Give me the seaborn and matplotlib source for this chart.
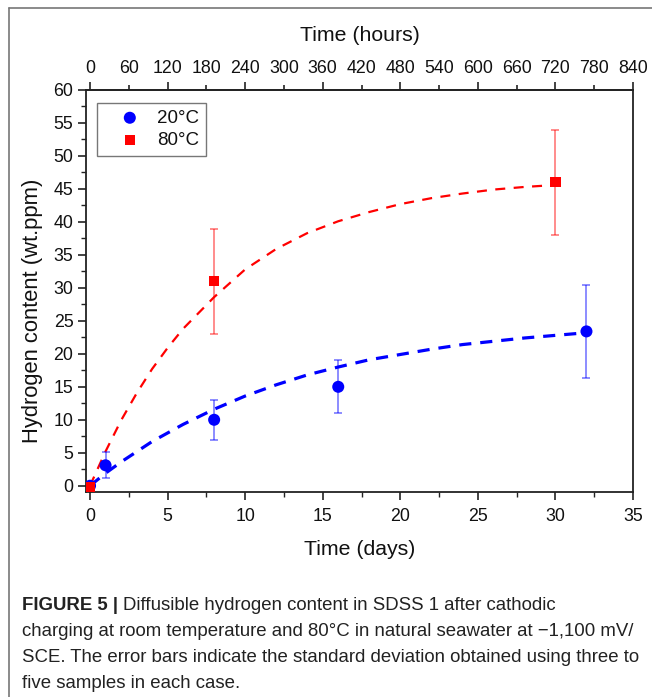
import numpy as np
import pandas as pd
import matplotlib
matplotlib.use("Agg")
import matplotlib.pyplot as plt
from matplotlib.lines import Line2D
from matplotlib.ticker import MultipleLocator
import seaborn as sns

# ---- data ----
days_20 = [0, 1, 8, 16, 32]
h_20 = [0.0, 3.1, 10.0, 15.0, 23.4]
err_20 = [0.0, 2.0, 3.0, 4.0, 7.0]

days_80 = [0, 8, 30]
h_80 = [-0.2, 31.0, 46.0]
err_80 = [0.0, 8.0, 8.0]

fit_days_20 = [0, 1, 2, 4, 6, 8, 10, 12, 14, 16, 18, 20, 22, 24, 26, 28, 30, 32]
fit_h_20 = [0.0, 1.9, 3.6, 6.7, 9.3, 11.6, 13.6, 15.3, 16.8, 18.0, 19.1, 19.9,
            20.7, 21.4, 21.9, 22.4, 22.8, 23.2]
fit_days_80 = [0, 1, 2, 3, 4, 5, 6, 8, 10, 12, 14, 16, 18, 20, 22, 24, 26, 28, 30]
fit_h_80 = [0.0, 5.2, 9.9, 14.0, 17.7, 20.9, 23.8, 28.6, 32.8, 35.9, 38.3, 40.1,
            41.5, 42.7, 43.6, 44.3, 44.9, 45.3, 45.6]

x_ticks = [0, 5, 10, 15, 20, 25, 30, 35]
y_ticks = [0, 5, 10, 15, 20, 25, 30, 35, 40, 45, 50, 55, 60]
hour_ticks = list(range(0, 841, 60))

labels = ["20°C", "80°C"]
caption_bold = "FIGURE 5 | "
caption_lines = [
    "Diffusible hydrogen content in SDSS 1 after cathodic",
    "charging at room temperature and 80°C in natural seawater at \u22121,100 mV/",
    "SCE. The error bars indicate the standard deviation obtained using three to",
    "five samples in each case.",
]

# ---- style ----
sns.set_style("white")
plt.rcParams["font.family"] = ["Liberation Sans", "DejaVu Sans"]

W, H = 652, 697
fig = plt.figure(figsize=(W / 100, H / 100), dpi=100)
ax = fig.add_axes([86 / W, 1 - 492 / H, (633 - 86) / W, (492 - 90) / H])

BLUE = "#0000ff"
RED = "#ff0000"
TXT = "#111111"

fit20 = pd.DataFrame({"t": fit_days_20, "h": fit_h_20})
fit80 = pd.DataFrame({"t": fit_days_80, "h": fit_h_80})
sns.lineplot(data=fit80, x="t", y="h", ax=ax, color=RED, lw=1.6,
             linestyle=(0, (4.5, 3.8)), legend=False)
sns.lineplot(data=fit20, x="t", y="h", ax=ax, color=BLUE, lw=2.3,
             linestyle=(0, (3.8, 2.8)), legend=False)

ax.errorbar(days_80, h_80, yerr=err_80, fmt="none", ecolor=RED, alpha=0.45,
            elinewidth=1.4, capsize=3.2, capthick=1.4)
ax.errorbar(days_20, h_20, yerr=err_20, fmt="none", ecolor=BLUE, alpha=0.45,
            elinewidth=1.4, capsize=3.2, capthick=1.4)

d20 = pd.DataFrame({"t": days_20, "h": h_20})
d80 = pd.DataFrame({"t": days_80, "h": h_80})
sns.scatterplot(data=d20, x="t", y="h", ax=ax, color=BLUE, marker="o", s=75,
                edgecolor="none", label=labels[0], zorder=5)
sns.scatterplot(data=d80, x="t", y="h", ax=ax, color=RED, marker="s", s=55,
                edgecolor="none", label=labels[1], zorder=5)

ax.set_xlim(-0.26, 35)
ax.set_ylim(-0.95, 60)
ax.set_xticks(x_ticks)
ax.set_yticks(y_ticks)
ax.xaxis.set_minor_locator(MultipleLocator(2.5))
ax.yaxis.set_minor_locator(MultipleLocator(2.5))
ax.tick_params(axis="both", which="major", direction="out", length=6, width=1.2,
               labelsize=12.8, color="#222222", labelcolor=TXT, pad=3)
ax.tick_params(axis="x", which="major", pad=5.5)
ax.tick_params(axis="both", which="minor", direction="out", length=3.5, width=1.0,
               color="#222222")
ax.tick_params(bottom=True, left=True, which="both")
for s in ax.spines.values():
    s.set_linewidth(1.3)
    s.set_color("#222222")

ax.set_xlabel("Time (days)", fontsize=15.3, labelpad=11, color=TXT)
ax.set_ylabel("Hydrogen content (wt.ppm)", fontsize=15.8, color=TXT)
ax.yaxis.label.set_va("center")
ax.yaxis.set_label_coords((33 - 86) / 547, 1 - (311 - 90) / 402)

# top axis in hours
top = ax.secondary_xaxis("top", functions=(lambda d: d * 24, lambda h: h / 24))
top.set_xticks(hour_ticks)
top.tick_params(axis="x", which="major", direction="out", length=6, width=1.2,
                labelsize=12.8, color="#222222", labelcolor=TXT, pad=3)
for i, t in enumerate(top.xaxis.get_major_ticks()):
    if i % 2 == 1:
        t.tick2line.set_markersize(3.5)
        t.tick1line.set_markersize(3.5)
top.set_xlabel("Time (hours)", fontsize=15.3, labelpad=14, color=TXT)
top.spines["top"].set_linewidth(1.3)

leg = ax.legend(loc="upper left", bbox_to_anchor=(0.0201, 0.9677), borderaxespad=0,
                fontsize=13.5, frameon=True, fancybox=False, edgecolor="#555555",
                handletextpad=0.05, borderpad=0.35, labelspacing=0.28,
                handlelength=2.8)
leg.get_frame().set_linewidth(1.0)
for txt in leg.get_texts():
    txt.set_color(TXT)

# frame border
fig.add_artist(Line2D([9 / W, 9 / W], [0, 1 - 8 / H], color="#777777", lw=1.2))
fig.add_artist(Line2D([9 / W, 1], [1 - 8 / H, 1 - 8 / H], color="#777777", lw=1.2))

# caption
cap_font = ["Liberation Sans", "DejaVu Sans"]
cap_size = 13.4
ys = [605, 632, 657, 684]
renderer = fig.canvas.get_renderer()
t0 = fig.text(22 / W, 1 - ys[0] / H, caption_bold, fontsize=cap_size, fontweight="bold",
              family=cap_font, va="center", ha="left", color="#222222")
bb = t0.get_window_extent(renderer=renderer)
fig.text(bb.x1 / W, 1 - ys[0] / H, caption_lines[0], fontsize=cap_size, family=cap_font,
         va="center", ha="left", color="#222222")
for y, line in zip(ys[1:], caption_lines[1:]):
    fig.text(22 / W, 1 - y / H, line, fontsize=cap_size, family=cap_font,
             va="center", ha="left", color="#222222")

fig.savefig("out.png", dpi=100, facecolor="white")
